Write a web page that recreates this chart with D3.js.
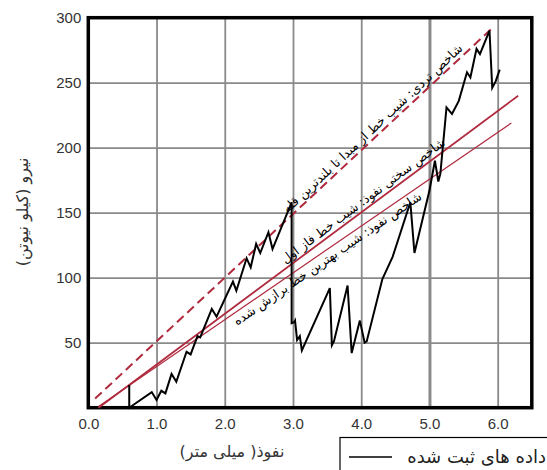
<!DOCTYPE html>
<html><head><meta charset="utf-8">
<script src="https://cdn.jsdelivr.net/npm/d3@7"></script>
<style>
body{margin:0;background:#fff;}
svg{display:block;}
</style></head>
<body>
<svg id="chart" width="547" height="470"></svg>
<script>
// ---- data ----
const xTicks = [0, 1, 2, 3, 4, 5, 6];
const yTicks = [50, 100, 150, 200, 250, 300];
const gridX = [1, 2, 3, 4, 5, 6];
const gridY = [50, 100, 150, 200, 250];

const dataX = [0.6, 0.6, 0.93, 1.0, 1.07, 1.13, 1.22, 1.29, 1.44, 1.5, 1.6, 1.64, 1.81, 1.88, 2.12, 2.17, 2.32, 2.38, 2.46, 2.52, 2.64, 2.7, 2.98,
  2.98, 3.02, 3.03, 3.06, 3.1, 3.13, 3.54, 3.57, 3.6, 3.8, 3.86, 3.98, 4.05, 4.08, 4.31, 4.46, 4.72, 4.78, 5.0,
  5.08, 5.13, 5.16, 5.25, 5.33, 5.43, 5.55, 5.6, 5.69, 5.74, 5.88, 5.92, 5.97, 6.03];
const dataY = [17.5, 0, 12, 6, 13, 11, 26, 20, 43, 41, 55, 54, 76, 70, 97, 90, 115, 108, 126, 119, 135, 122, 158,
  65, 66, 67, 52, 55, 44, 92, 48, 51, 94, 42, 67, 50, 51, 99, 116, 158, 119, 167,
  190, 174, 180, 231, 226, 236, 258, 254, 276, 272, 290, 246, 251, 260];

// index lines: [x0, x1], [y0, y1]
const brittleX = [0.1, 5.9],  brittleY = [7, 291];
const stiffX   = [0.15, 6.3], stiffY   = [0, 240];
const fitX     = [0.15, 6.2], fitY     = [1, 219];

const brittleLabel = "شاخص تردی: شیب خط از مبدا تا بلندترین قله";
const stiffLabel = "شاخص سختی نفوذ: شیب خط فاز اول";
const fitLabel = "شاخص نفوذ: شیب بهترین خط برازش شده";
const xTitle = "نفوذ( میلی متر)";
const yTitle = "نیرو (کیلو نیوتن)";
const legendLabel = "داده های ثبت شده";

// ---- layout ----
const svg = d3.select("#chart");
const x = d3.scaleLinear().domain([0, 6.5]).range([88.3, 531.8]);
const y = d3.scaleLinear().domain([0, 300]).range([407.7, 17.7]);
const faFont = "'DejaVu Sans', sans-serif";
const numFont = "'Liberation Sans', Arial, sans-serif";

// gridlines
const gx = svg.append("g").attr("transform", `translate(0,${y(0)})`)
  .call(d3.axisBottom(x).tickValues(gridX).tickSize(-(y(0) - y(300))).tickFormat(""));
gx.select(".domain").remove();
gx.selectAll("line").attr("stroke", "#8a8a8a").attr("stroke-width", d => d === 5 ? 3 : 1.8);
const gy = svg.append("g").attr("transform", `translate(${x(0)},0)`)
  .call(d3.axisLeft(y).tickValues(gridY).tickSize(-(x(6.5) - x(0))).tickFormat(""));
gy.select(".domain").remove();
gy.selectAll("line").attr("stroke", "#8a8a8a").attr("stroke-width", 1.8);

// frame
svg.append("rect").attr("x", x(0)).attr("y", y(300))
  .attr("width", x(6.5) - x(0)).attr("height", y(0) - y(300))
  .attr("fill", "none").attr("stroke", "#000").attr("stroke-width", 3.5);

// tick labels
const ax = svg.append("g").attr("transform", `translate(0,${y(0)})`)
  .call(d3.axisBottom(x).tickValues(xTicks).tickFormat(d3.format(".1f")).tickSize(0).tickPadding(11));
ax.select(".domain").remove();
ax.selectAll("text").attr("font-family", numFont).attr("font-size", 15).attr("fill", "#333");
const ay = svg.append("g").attr("transform", `translate(${x(0) - 5},0)`)
  .call(d3.axisLeft(y).tickValues(yTicks).tickSize(0).tickPadding(2));
ay.select(".domain").remove();
ay.selectAll("text").attr("font-family", numFont).attr("font-size", 15).attr("fill", "#333");

// index lines
const red = "#b02a3e";
function seg(xs, ys) { return d3.line()(xs.map((v, i) => [x(v), y(ys[i])])); }
svg.append("path").attr("d", seg(brittleX, brittleY)).attr("stroke", red).attr("stroke-width", 2)
  .attr("stroke-dasharray", "9,5").attr("fill", "none");
svg.append("path").attr("d", seg(stiffX, stiffY)).attr("stroke", red).attr("stroke-width", 1.8).attr("fill", "none");
svg.append("path").attr("d", seg(fitX, fitY)).attr("stroke", red).attr("stroke-width", 1.2).attr("fill", "none");

// data path
svg.append("path")
  .attr("d", d3.line().x((d, i) => x(dataX[i])).y((d, i) => y(d))(dataY))
  .attr("fill", "none").attr("stroke", "#000").attr("stroke-width", 2).attr("stroke-linejoin", "miter");

// labels along lines
function lineLabel(xs, ys, atX, txt, dy) {
  const t = (atX - xs[0]) / (xs[1] - xs[0]);
  const vy = ys[0] + t * (ys[1] - ys[0]);
  const px = x(atX), py = y(vy);
  const ang = Math.atan2(y(ys[1]) - y(ys[0]), x(xs[1]) - x(xs[0])) * 180 / Math.PI;
  svg.append("text").attr("transform", `translate(${px},${py}) rotate(${ang})`)
    .attr("dy", dy).attr("text-anchor", "middle").attr("font-family", faFont)
    .attr("font-size", 12.5).attr("fill", "#000").attr("direction", "rtl").attr("unicode-bidi", "plaintext")
    .text(txt);
}
lineLabel(brittleX, brittleY, 4.25, brittleLabel, -4);
lineLabel(stiffX, stiffY, 4.1, stiffLabel, -4);
lineLabel(fitX, fitY, 3.44, fitLabel, 12);

// axis titles
svg.append("text").attr("x", 232).attr("y", 457).attr("text-anchor", "middle")
  .attr("font-family", faFont).attr("font-size", 16).attr("fill", "#333").text(xTitle);
svg.append("text").attr("transform", "translate(28,212) rotate(-90)").attr("text-anchor", "middle")
  .attr("font-family", faFont).attr("font-size", 16).attr("fill", "#333").text(yTitle);

// legend
svg.append("rect").attr("x", 340).attr("y", 437.5).attr("width", 230).attr("height", 50)
  .attr("fill", "#fff").attr("stroke", "#000").attr("stroke-width", 1.2);
svg.append("line").attr("x1", 349).attr("x2", 392).attr("y1", 457).attr("y2", 457)
  .attr("stroke", "#000").attr("stroke-width", 1.5);
svg.append("text").attr("x", 546).attr("y", 463).attr("text-anchor", "end")
  .attr("font-family", faFont).attr("font-size", 18).attr("fill", "#222").text(legendLabel);
</script>
</body></html>
